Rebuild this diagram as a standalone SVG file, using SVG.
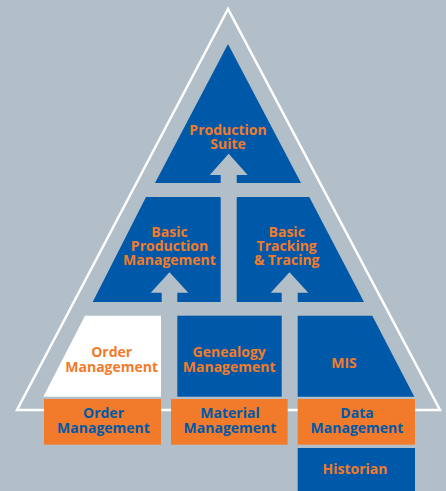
<svg xmlns="http://www.w3.org/2000/svg" width="446" height="491" viewBox="0 0 446 491">
<style>
.bg{fill:#b2bfc8}
.blue{fill:#0059a8}
.white{fill:#ffffff}
.orange{fill:#f27b2b}
.t{font-family:"Open Sans","Liberation Sans",sans-serif;font-weight:700;font-size:14px;text-anchor:middle}
.to{fill:#f27b2b}
.tb{fill:#0059a8}
</style>
<rect class="bg" x="0" y="0" width="446" height="491"/>
<g id="frame">
<polygon points="228,9 17,410 440,410" fill="none" stroke="#ffffff" stroke-width="2.5" stroke-linejoin="miter"/>
</g>
<g id="production-suite">
<polygon class="blue" points="228,44 301,183 155,183"/>
<text class="t to" x="228" y="135">Production</text>
<text class="t to" x="228" y="149">Suite</text>
</g>
<g id="basic-production-management">
<polygon class="blue" points="146,197 220.7,197 220.7,302 92.7,302"/>
<text class="t to" x="169.5" y="236.7">Basic</text>
<text class="t to" x="169.5" y="251">Production</text>
<text class="t to" x="169.5" y="265.3">Management</text>
</g>
<g id="basic-tracking-tracing">
<polygon class="blue" points="236.7,197 309.3,197 364,302 236.7,302"/>
<text class="t to" x="286.7" y="236.7">Basic</text>
<text class="t to" x="286.7" y="251">Tracking</text>
<text class="t to" x="286.7" y="265.3">&amp; Tracing</text>
</g>
<g id="order-management-top">
<polygon class="white" points="85,315.7 161,315.7 161,396.7 43.3,396.7"/>
<text class="t to" x="111.7" y="357">Order</text>
<text class="t to" x="111.7" y="371.7">Management</text>
</g>
<g id="genealogy-management">
<rect class="blue" x="177.3" y="315.7" width="104.4" height="81"/>
<text class="t to" x="229.2" y="357">Genealogy</text>
<text class="t to" x="229.2" y="371.7">Management</text>
</g>
<g id="mis">
<polygon class="blue" points="297.7,315.7 372.3,315.7 414.3,396.7 297.7,396.7"/>
<text class="t to" x="344" y="367.7">MIS</text>
</g>
<g id="connectors">
<polygon class="bg" points="228.7,153.7 247.7,175 236.7,175 236.7,198 220.7,198 220.7,175 209.7,175"/>
<polygon class="bg" points="169.5,272.3 188.3,292.7 177.3,292.7 177.3,303 161.7,303 161.7,292.7 150.7,292.7"/>
<polygon class="bg" points="289.5,272.3 308.3,292.7 297.7,292.7 297.7,303 281.7,303 281.7,292.7 270.7,292.7"/>
</g>
<g id="order-management">
<rect class="orange" x="44" y="399" width="117" height="45.7"/>
<text class="t tb" x="103.5" y="418.3">Order</text>
<text class="t tb" x="103.5" y="433.3">Management</text>
</g>
<g id="material-management">
<rect class="orange" x="171" y="399" width="116.7" height="45.7"/>
<text class="t tb" x="230" y="418.3">Material</text>
<text class="t tb" x="230" y="433.3">Management</text>
</g>
<g id="data-management">
<rect class="orange" x="297.7" y="399" width="117.3" height="45.7"/>
<text class="t tb" x="357" y="418.3">Data</text>
<text class="t tb" x="357" y="433.3">Management</text>
</g>
<g id="historian">
<rect class="blue" x="297.7" y="448" width="117.3" height="43"/>
<text class="t to" x="355" y="474">Historian</text>
</g>
</svg>
